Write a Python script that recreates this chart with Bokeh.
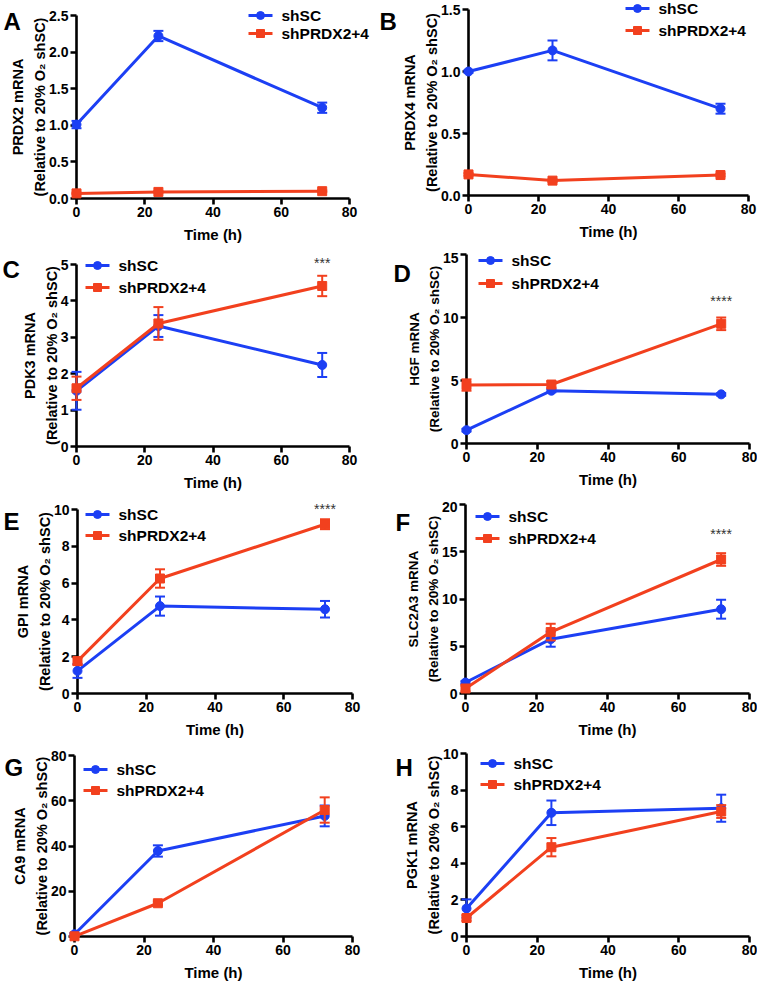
from bokeh.plotting import figure
from bokeh.models import ColumnDataSource, Range1d, FixedTicker, NumeralTickFormatter
from bokeh.core.properties import value
from bokeh.layouts import column, row
from bokeh.embed import file_html
from bokeh.resources import INLINE

# ---------------- data ----------------
time_h = [0, 24, 72]
groups = ["shSC", "shPRDX2+4"]
x_ticks = [0, 20, 40, 60, 80]

prdx2_shsc = [1.01, 2.22, 1.24]
prdx2_shsc_err = [0.05, 0.07, 0.07]
prdx2_kd = [0.07, 0.09, 0.10]
prdx2_kd_err = [0.01, 0.01, 0.01]

prdx4_shsc = [1.00, 1.17, 0.70]
prdx4_shsc_err = [0.01, 0.08, 0.04]
prdx4_kd = [0.17, 0.12, 0.165]
prdx4_kd_err = [0.01, 0.01, 0.01]

pdk3_shsc = [1.53, 3.31, 2.24]
pdk3_shsc_err = [0.52, 0.30, 0.33]
pdk3_kd = [1.60, 3.38, 4.41]
pdk3_kd_err = [0.32, 0.45, 0.28]

hgf_shsc = [1.06, 4.19, 3.90]
hgf_shsc_err = [0.10, 0.12, 0.10]
hgf_kd = [4.64, 4.68, 9.50]
hgf_kd_err = [0.45, 0.25, 0.50]

gpi_shsc = [1.23, 4.75, 4.58]
gpi_shsc_err = [0.38, 0.52, 0.45]
gpi_kd = [1.76, 6.25, 9.20]
gpi_kd_err = [0.20, 0.50, 0.27]

slc2a3_shsc = [1.16, 5.75, 8.92]
slc2a3_shsc_err = [0.15, 0.80, 1.00]
slc2a3_kd = [0.53, 6.50, 14.18]
slc2a3_kd_err = [0.30, 0.88, 0.67]

ca9_shsc = [1.0, 37.8, 53.3]
ca9_shsc_err = [0.5, 2.5, 4.6]
ca9_kd = [0.1, 14.7, 55.9]
ca9_kd_err = [0.2, 0.8, 5.6]

pgk1_shsc = [1.53, 6.76, 7.01]
pgk1_shsc_err = [0.50, 0.67, 0.74]
pgk1_kd = [1.01, 4.88, 6.83]
pgk1_kd_err = [0.15, 0.50, 0.35]

panels = [
    dict(letter="A", gene="PRDX2", sc=prdx2_shsc, sc_err=prdx2_shsc_err, kd=prdx2_kd, kd_err=prdx2_kd_err,
         ymax=2.5, yticks=[0, 0.5, 1.0, 1.5, 2.0, 2.5], fmt="0.0", sig=None),
    dict(letter="B", gene="PRDX4", sc=prdx4_shsc, sc_err=prdx4_shsc_err, kd=prdx4_kd, kd_err=prdx4_kd_err,
         ymax=1.5, yticks=[0, 0.5, 1.0, 1.5], fmt="0.0", sig=None),
    dict(letter="C", gene="PDK3", sc=pdk3_shsc, sc_err=pdk3_shsc_err, kd=pdk3_kd, kd_err=pdk3_kd_err,
         ymax=5, yticks=[0, 1, 2, 3, 4, 5], fmt="0", sig="***"),
    dict(letter="D", gene="HGF", sc=hgf_shsc, sc_err=hgf_shsc_err, kd=hgf_kd, kd_err=hgf_kd_err,
         ymax=15, yticks=[0, 5, 10, 15], fmt="0", sig="****"),
    dict(letter="E", gene="GPI", sc=gpi_shsc, sc_err=gpi_shsc_err, kd=gpi_kd, kd_err=gpi_kd_err,
         ymax=10, yticks=[0, 2, 4, 6, 8, 10], fmt="0", sig="****"),
    dict(letter="F", gene="SLC2A3", sc=slc2a3_shsc, sc_err=slc2a3_shsc_err, kd=slc2a3_kd, kd_err=slc2a3_kd_err,
         ymax=20, yticks=[0, 5, 10, 15, 20], fmt="0", sig="****"),
    dict(letter="G", gene="CA9", sc=ca9_shsc, sc_err=ca9_shsc_err, kd=ca9_kd, kd_err=ca9_kd_err,
         ymax=80, yticks=[0, 20, 40, 60, 80], fmt="0", sig=None),
    dict(letter="H", gene="PGK1", sc=pgk1_shsc, sc_err=pgk1_shsc_err, kd=pgk1_kd, kd_err=pgk1_kd_err,
         ymax=10, yticks=[0, 2, 4, 6, 8, 10], fmt="0", sig=None),
]

# ---------------- layout (page pixel boxes) ----------------
# cell = figure box, frame = plot area, leg = (left x, row1 y, row2 y),
# letter = (left x, baseline y), sig = centre y of the stars (pixels), ylab = y-label font size
geom = {
    "A": dict(cell=(0, 0, 378, 252), frame=(76, 15, 349, 198), leg=(248, 15, 33), letter=(3, 21), sig=None, ylab="14.5px"),
    "B": dict(cell=(378, 0, 757, 252), frame=(468, 9, 748, 195), leg=(625, 8, 30), letter=(379, 21), sig=None, ylab="14.5px"),
    "C": dict(cell=(0, 252, 378, 501), frame=(76, 264, 349, 446), leg=(85, 265, 287), letter=(2, 269), sig=259, ylab="14.5px"),
    "D": dict(cell=(378, 252, 757, 501), frame=(466, 254, 749, 443), leg=(478, 260, 283), letter=(393, 273), sig=297, ylab="13.5px"),
    "E": dict(cell=(0, 501, 378, 748), frame=(77, 509, 352, 693), leg=(85, 514, 535), letter=(3, 521), sig=505, ylab="14.5px"),
    "F": dict(cell=(378, 501, 757, 748), frame=(465, 504, 749, 693), leg=(475, 516, 538), letter=(395, 522), sig=530, ylab="13.5px"),
    "G": dict(cell=(0, 748, 378, 989), frame=(74, 755, 352, 936), leg=(83, 769, 790), letter=(4, 767), sig=None, ylab="14.5px"),
    "H": dict(cell=(378, 748, 757, 989), frame=(466, 753, 749, 936), leg=(480, 763, 784), letter=(395, 767), sig=None, ylab="14.5px"),
}

BLUE = "#1c3ff4"
RED = "#f2401e"
FONT = "Liberation Sans"
XMAX = x_ticks[-1]


def make_panel(cfg):
    g = geom[cfg["letter"]]
    cx0, cy0, cx1, cy1 = g["cell"]
    fx0, fy0, fx1, fy1 = g["frame"]
    ymax = cfg["ymax"]

    def px2d(px, py):
        return (px - fx0) / (fx1 - fx0) * XMAX, (fy1 - py) / (fy1 - fy0) * ymax

    p = figure(width=cx1 - cx0, height=cy1 - cy0, output_backend="svg", toolbar_location=None,
               title=None,
               x_range=Range1d(0, XMAX), y_range=Range1d(0, ymax),
               min_border_left=fx0 - cx0, min_border_right=cx1 - fx1,
               min_border_top=fy0 - cy0, min_border_bottom=cy1 - fy1)
    p.outline_line_color = None
    p.xgrid.visible = False
    p.ygrid.visible = False
    p.background_fill_color = "white"
    p.border_fill_color = "white"

    for ax in (p.xaxis[0], p.yaxis[0]):
        ax.axis_line_width = 2.6
        ax.axis_line_color = "black"
        ax.major_tick_line_width = 2.6
        ax.major_tick_out = 6
        ax.major_tick_in = 0
        ax.minor_tick_out = 0
        ax.minor_tick_in = 0
        ax.major_label_standoff = 2
        ax.major_label_text_font = FONT
        ax.major_label_text_font_style = "bold"
        ax.major_label_text_font_size = "14px"
        ax.major_label_text_color = "black"
        ax.axis_label_text_font = FONT
        ax.axis_label_text_font_style = "bold"
        ax.axis_label_text_color = "black"

    p.xaxis[0].ticker = FixedTicker(ticks=x_ticks)
    p.xaxis[0].axis_label = "Time (h)"
    p.xaxis[0].axis_label_text_font_size = "15px"
    p.xaxis[0].axis_label_standoff = 6
    p.xaxis[0].axis_label_text_line_height = 1.0
    p.yaxis[0].ticker = FixedTicker(ticks=cfg["yticks"])
    p.yaxis[0].formatter = NumeralTickFormatter(format=cfg["fmt"])
    p.yaxis[0].axis_label = cfg["gene"] + " mRNA\n(Relative to 20% O\u2082 shSC)"
    p.yaxis[0].axis_label_text_font_size = g["ylab"]
    p.yaxis[0].axis_label_standoff = -2
    p.yaxis[0].axis_label_text_line_height = 1.35

    series = [(cfg["sc"], cfg["sc_err"], BLUE, "circle", groups[0]),
              (cfg["kd"], cfg["kd_err"], RED, "square", groups[1])]
    lx, c1, c2 = g["leg"]
    for i, (vals, errs, color, marker, name) in enumerate(series):
        src = ColumnDataSource(dict(x=time_h, y=vals,
                                    lo=[v - e for v, e in zip(vals, errs)],
                                    hi=[v + e for v, e in zip(vals, errs)]))
        rs = [
            p.segment("x", "lo", "x", "hi", source=src, line_color=color, line_width=2),
            p.scatter("x", "hi", source=src, marker="dash", size=10, line_color=color, line_width=2),
            p.scatter("x", "lo", source=src, marker="dash", size=10, line_color=color, line_width=2),
            p.line("x", "y", source=src, line_color=color, line_width=3),
            p.scatter("x", "y", source=src, marker=marker, size=9, fill_color=color, line_color=color),
        ]
        # legend entry
        cy = c1 if i == 0 else c2
        ax0, ay = px2d(lx, cy)
        ax1, _ = px2d(lx + 24, cy)
        amid, _ = px2d(lx + 12, cy)
        atx, _ = px2d(lx + 33, cy)
        rs += [
            p.segment(x0=[ax0], y0=[ay], x1=[ax1], y1=[ay], line_color=color, line_width=3),
            p.scatter(x=[amid], y=[ay], marker=marker, size=8, fill_color=color, line_color=color),
            p.text(x=[atx], y=[ay], text=[name], text_font=value(FONT), text_font_style="bold",
                   text_font_size="15.5px", text_baseline="middle", text_align="left", text_color="black"),
        ]
        for r in rs:
            r.level = "overlay"

    lpx, lpy = g["letter"]
    lxd, lyd = px2d(lpx, lpy)
    t = p.text(x=[lxd], y=[lyd], text=[cfg["letter"]], text_font=value(FONT), text_font_style="bold",
               text_font_size="24px", text_baseline="alphabetic", text_align="left", text_color="black")
    t.level = "overlay"

    if cfg["sig"] is not None:
        # anchored at the top of the y range, shifted in screen pixels
        s = p.text(x=[time_h[-1]], y=[ymax], y_offset=g["sig"] + 3 - fy0, text=[cfg["sig"]],
                   text_font=value(FONT), text_font_size="14px",
                   text_baseline="middle", text_align="center", text_color="#333333")
        s.level = "overlay"
    return p


figs = [make_panel(c) for c in panels]
# wrap every figure on its own so that neighbouring plot frames are not aligned
cells = [column(f) for f in figs]
layout = column(row(cells[0], cells[1]), row(cells[2], cells[3]),
                row(cells[4], cells[5]), row(cells[6], cells[7]))

open("out.html", "w").write(file_html(layout, INLINE))
